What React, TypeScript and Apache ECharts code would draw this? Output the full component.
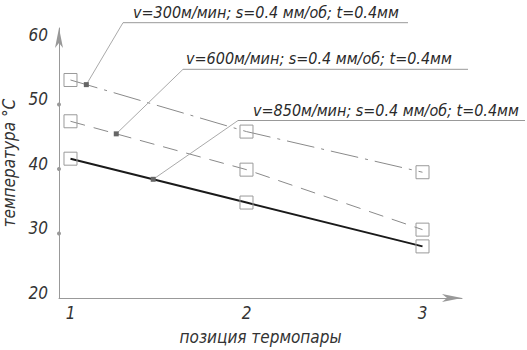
import React, { useEffect, useRef } from "react";
import * as echarts from "echarts";

const positions = [1, 2, 3];
const v300 = [53.8, 45.8, 39.5];
const v600 = [47.4, 39.9, 30.6];
const v850 = [41.6, 34.8, 28.0];
const seriesNames = [
  "v=300м/мин; s=0.4 мм/об; t=0.4мм",
  "v=600м/мин; s=0.4 мм/об; t=0.4мм",
  "v=850м/мин; s=0.4 мм/об; t=0.4мм",
];
const anchorX = [1.09, 1.26, 1.47];
const yTickDots = [30, 40, 50, 60];
const xTickLabels = ["1", "2", "3"];

const FONT = "'Liberation Sans Narrow', 'DejaVu Sans Condensed', 'Liberation Sans', sans-serif";

export default function App() {
  const ref = useRef<HTMLDivElement>(null);
  useEffect(() => {
    if (!ref.current) return;
    const chart = echarts.init(ref.current, null, { renderer: "svg" });
    const all = [v300, v600, v850];
    const styles = [
      { color: "#8a8a8a", width: 1, type: [28, 7, 3, 7] },
      { color: "#8a8a8a", width: 1, type: [15, 9] },
      { color: "#1a1a1a", width: 2, type: "solid" },
    ];
    const option: any = {
      animation: false,
      grid: {
        left: 59,
        right: 65,
        top: 28,
        bottom: 52,
        containLabel: false,
        outerBoundsMode: "none",
      },
      xAxis: {
        type: "value",
        min: 0.9347,
        max: 3.2244,
        interval: 1,
        name: "позиция термопары",
        nameLocation: "middle",
        nameGap: 30,
        nameTextStyle: { fontFamily: FONT, fontStyle: "italic", fontSize: 17, color: "#333" },
        axisLine: {
          show: true,
          symbol: ["none", "arrow"],
          symbolSize: [6, 20],
          lineStyle: { color: "#999", width: 1 },
        },
        axisTick: { show: false },
        splitLine: { show: false },
        axisLabel: {
          fontFamily: FONT,
          fontStyle: "italic",
          fontSize: 17,
          color: "#333",
          margin: 6,
          customValues: positions,
          formatter: (v: number) => {
            const i = positions.indexOf(Math.round(v));
            return Math.abs(v - Math.round(v)) < 1e-6 && i >= 0 ? xTickLabels[i] : "";
          },
        },
      },
      yAxis: {
        type: "value",
        min: 20,
        max: 61.86,
        interval: 10,
        name: "температура °С",
        nameLocation: "middle",
        nameRotate: 90,
        nameGap: 38,
        nameTextStyle: { fontFamily: FONT, fontStyle: "italic", fontSize: 17, color: "#333" },
        axisLine: {
          show: true,
          symbol: ["none", "arrow"],
          symbolSize: [6, 20],
          lineStyle: { color: "#999", width: 1 },
        },
        axisTick: { show: false },
        splitLine: { show: false },
        axisLabel: {
          fontFamily: FONT,
          fontStyle: "italic",
          fontSize: 17,
          color: "#333",
          margin: 11,
          verticalAlign: "bottom",
          lineHeight: 10,
          showMaxLabel: false,
          formatter: (v: number) => (v % 10 === 0 ? String(v) : ""),
        },
      },
      series: all.map((vals, i) => ({
        type: "line",
        name: seriesNames[i],
        data: positions.map((p, j) => [p, vals[j]]),
        symbol: "rect",
        symbolSize: 13,
        showAllSymbol: true,
        itemStyle: { color: "rgba(0,0,0,0)", borderColor: "#9a9a9a", borderWidth: 1 },
        lineStyle: styles[i],
        z: 3,
      })),
    };
    chart.setOption(option);

    // annotation layout (pixels): underline start x, underline y, underline end x, text left x
    const layout = [
      [123, 22.7, 408, 133],
      [183, 69.3, 468, 186],
      [238, 120.5, 525, 253],
    ];
    const graphics: any[] = [];
    all.forEach((vals, i) => {
      const ax = anchorX[i];
      const k = Math.floor(ax) - 1;
      const t = ax - positions[k];
      const ay = vals[k] + (vals[k + 1] - vals[k]) * t;
      const p = chart.convertToPixel({ gridIndex: 0 }, [ax, ay]) as number[];
      const [ux, uy, uend, tx] = layout[i];
      graphics.push({
        type: "line",
        shape: { x1: p[0], y1: p[1], x2: ux, y2: uy },
        style: { stroke: "#aaa", lineWidth: 1 },
        z: 10,
      });
      graphics.push({
        type: "line",
        shape: { x1: ux, y1: uy, x2: uend, y2: uy },
        style: { stroke: "#999", lineWidth: 1 },
        z: 10,
      });
      graphics.push({
        type: "rect",
        shape: { x: p[0] - 2.5, y: p[1] - 2.5, width: 5, height: 5 },
        style: { fill: "#666" },
        z: 11,
      });
      graphics.push({
        type: "text",
        x: tx,
        y: uy - 10.5,
        style: {
          text: seriesNames[i],
          fontFamily: FONT,
          fontStyle: "italic",
          fontSize: 16,
          fill: "#2a2a2a",
          verticalAlign: "middle",
          align: "left",
        },
        z: 12,
      });
    });
    yTickDots.forEach((v) => {
      const p = chart.convertToPixel({ gridIndex: 0 }, [0.9347, v]) as number[];
      graphics.push({
        type: "circle",
        shape: { cx: p[0], cy: p[1], r: 2 },
        style: { fill: "#999" },
        z: 10,
      });
    });
    chart.setOption({ graphic: graphics });
    return () => chart.dispose();
  }, []);
  return (
    <div
      ref={ref}
      style={{ position: "fixed", left: 0, top: 0, width: 527, height: 350, background: "#fff" }}
    />
  );
}
